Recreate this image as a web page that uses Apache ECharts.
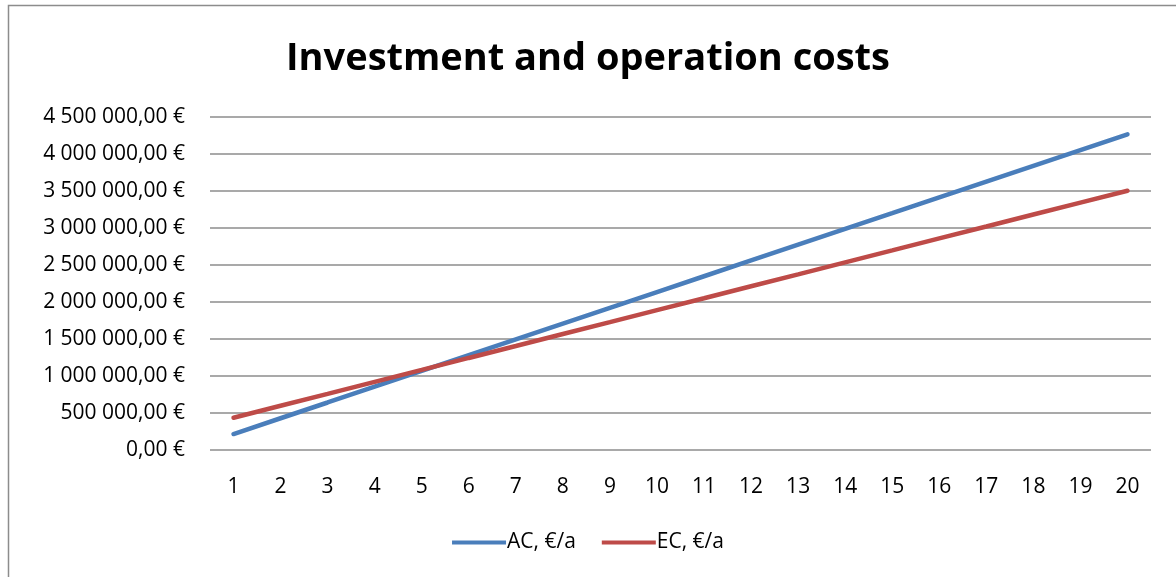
<!DOCTYPE html>
<html>
<head>
<meta charset="utf-8">
<script src="https://cdn.jsdelivr.net/npm/echarts@6/dist/echarts.min.js"></script>
<style>
    html, body { margin: 0; padding: 0; background: #fff; }
    #chart { width: 1176px; height: 577px; }
</style>
</head>
<body>
<div id="chart"></div>
<script>
// years 1..20
const years = ['1', '2', '3', '4', '5', '6', '7', '8', '9', '10',
    '11', '12', '13', '14', '15', '16', '17', '18', '19', '20']

// AC, €/a
const acValues = [216000, 429000, 642000, 856000, 1069000, 1282000, 1495000, 1708000, 1921000, 2135000,
    2348000, 2561000, 2774000, 2987000, 3200000, 3414000, 3627000, 3840000, 4053000, 4266000]

// EC, €/a
const ecValues = [436000, 598000, 759000, 921000, 1082000, 1244000, 1405000, 1567000, 1728000, 1890000,
    2051000, 2213000, 2374000, 2536000, 2697000, 2859000, 3020000, 3182000, 3343000, 3504000]

const yMin = 0
const yMax = 4500000
const yStep = 500000

function euro(v) {
    let s = Math.round(v).toString().replace(/\B(?=(\d{3})+(?!\d))/g, ' ')
    return s + ',00 €'
}

const font = '"Open Sans", Lato, sans-serif'

let chart = echarts.init(document.getElementById('chart'))
chart.setOption({
    animation: false,
    textStyle: { fontFamily: font },
    title: {
        text: 'Investment and operation costs',
        left: 'center',
        top: 35,
        textStyle: { fontFamily: font, fontSize: 38, fontWeight: 'bold', color: '#000' },
    },
    graphic: [{
        type: 'rect',
        shape: { x: 8.5, y: 5.5, width: 1200, height: 600 },
        style: { fill: 'none', stroke: '#8c8c8c', lineWidth: 1.5 },
        silent: true,
    }],
    legend: {
        bottom: 19,
        left: 'center',
        icon: 'rect',
        itemWidth: 54,
        itemHeight: 4,
        itemGap: 26,
        textStyle: { fontFamily: font, fontSize: 21, color: '#000', padding: [0, 0, 0, -4] },
        data: ['AC, €/a', 'EC, €/a'],
    },
    grid: {
        left: 210,
        right: 25,
        top: 117,
        bottom: 127,
    },
    xAxis: {
        type: 'category',
        data: years,
        axisLine: { show: false },
        axisTick: { show: false },
        axisLabel: { fontFamily: font, fontSize: 21, color: '#000', margin: 27 },
    },
    yAxis: {
        type: 'value',
        min: yMin,
        max: yMax,
        interval: yStep,
        axisLine: { show: false },
        axisTick: { show: false },
        axisLabel: { fontFamily: font, fontSize: 21, color: '#000', margin: 25, formatter: euro },
        splitLine: { lineStyle: { color: '#8c8c8c', width: 1.5 } },
    },
    series: [{
        name: 'AC, €/a',
        type: 'line',
        data: acValues,
        symbol: 'none',
        itemStyle: { color: '#4a7ebb' },
        lineStyle: { color: '#4a7ebb', width: 4.5, cap: 'round' },
    }, {
        name: 'EC, €/a',
        type: 'line',
        data: ecValues,
        symbol: 'none',
        itemStyle: { color: '#be4b48' },
        lineStyle: { color: '#be4b48', width: 4.5, cap: 'round' },
    }],
})
</script>
</body>
</html>
